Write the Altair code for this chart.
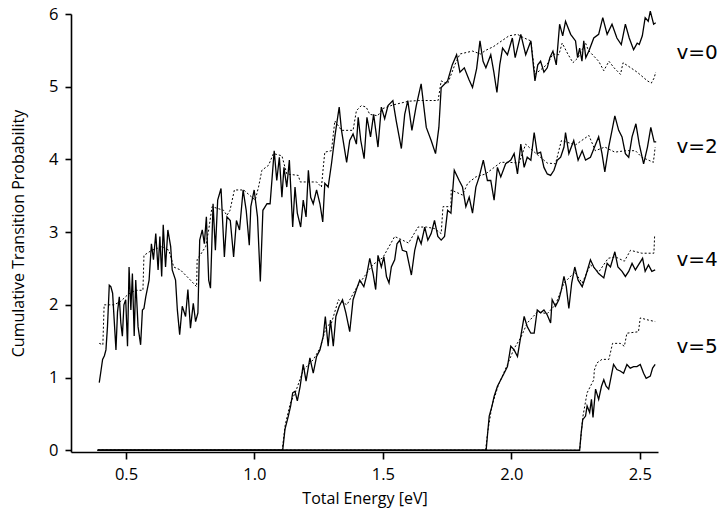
import altair as alt
import pandas as pd

# ---- data (Total Energy [eV], Cumulative Transition Probability) ----
v0_solid_x = [0.396, 0.403, 0.409, 0.416, 0.422, 0.428, 0.435, 0.441, 0.448, 0.454, 0.461, 0.467, 0.474, 0.480,
              0.486, 0.492, 0.499, 0.506, 0.512, 0.519, 0.525, 0.532, 0.538, 0.547, 0.557, 0.564, 0.570, 0.577,
              0.590, 0.599, 0.607, 0.616, 0.625, 0.632, 0.639, 0.645, 0.654, 0.663, 0.674, 0.680, 0.693, 0.700,
              0.709, 0.719, 0.732, 0.741, 0.751, 0.762, 0.771, 0.780, 0.787, 0.797, 0.805, 0.813, 0.822, 0.829,
              0.839, 0.848, 0.857, 0.870, 0.883, 0.893, 0.906, 0.919, 0.930, 0.942, 0.956, 0.968, 0.980, 0.986,
              0.999, 1.012, 1.023, 1.033, 1.049, 1.061, 1.077, 1.087, 1.097, 1.107, 1.115, 1.126, 1.136, 1.149,
              1.158, 1.167, 1.180, 1.190, 1.201, 1.210, 1.219, 1.229, 1.242, 1.255, 1.266, 1.274, 1.287, 1.300,
              1.313, 1.322, 1.330, 1.339, 1.359, 1.371, 1.384, 1.397, 1.404, 1.414, 1.427, 1.438, 1.452, 1.464,
              1.481, 1.494, 1.507, 1.520, 1.539, 1.552, 1.572, 1.585, 1.597, 1.613, 1.630, 1.649, 1.669, 1.688,
              1.705, 1.718, 1.727, 1.752, 1.770, 1.787, 1.800, 1.817, 1.835, 1.849, 1.865, 1.878, 1.890, 1.901,
              1.920, 1.932, 1.944, 1.955, 1.966, 1.985, 2.004, 2.015, 2.024, 2.037, 2.056, 2.076, 2.092, 2.103,
              2.114, 2.127, 2.140, 2.150, 2.162, 2.175, 2.188, 2.200, 2.211, 2.222, 2.231, 2.250, 2.258, 2.266,
              2.275, 2.282, 2.290, 2.302, 2.321, 2.340, 2.356, 2.373, 2.392, 2.411, 2.428, 2.444, 2.459, 2.476,
              2.490, 2.498, 2.510, 2.521, 2.533, 2.541, 2.554, 2.562]
v0_solid_y = [0.93, 1.10, 1.25, 1.30, 1.38, 1.70, 2.27, 2.25, 2.16, 1.80, 1.38, 1.90, 2.11, 1.75,
              1.57, 2.00, 2.07, 1.43, 2.52, 1.93, 2.43, 1.57, 2.34, 1.70, 1.45, 1.93, 1.95, 2.11,
              2.34, 2.84, 2.62, 2.98, 2.48, 2.94, 2.39, 3.10, 2.52, 3.03, 2.80, 2.48, 2.34, 1.93,
              1.59, 1.98, 1.84, 2.21, 1.68, 2.02, 1.77, 1.89, 2.89, 3.03, 2.84, 3.21, 2.34, 2.23,
              3.39, 2.75, 3.44, 3.60, 2.66, 3.21, 3.16, 2.66, 3.16, 3.03, 3.58, 3.30, 2.82, 3.35,
              3.58, 3.21, 2.32, 3.30, 3.39, 3.39, 4.12, 3.71, 4.03, 3.48, 3.89, 3.62, 3.99, 3.07,
              3.62, 3.26, 3.07, 3.44, 3.21, 3.85, 3.48, 3.39, 3.58, 3.39, 3.14, 3.67, 3.62, 3.94,
              4.31, 4.53, 4.72, 4.40, 3.96, 4.26, 4.35, 4.21, 4.58, 4.26, 4.01, 4.58, 4.31, 4.62,
              4.17, 4.72, 4.56, 4.74, 4.81, 4.53, 4.15, 4.62, 4.81, 4.40, 4.74, 5.04, 4.44, 4.26,
              4.08, 4.44, 4.99, 5.08, 5.30, 5.44, 5.20, 5.26, 5.10, 4.99, 5.25, 5.63, 5.35, 5.26,
              5.44, 5.20, 4.92, 5.30, 5.53, 5.44, 5.67, 5.40, 5.53, 5.72, 5.44, 5.63, 5.08, 5.30,
              5.35, 5.20, 5.26, 5.40, 5.49, 5.30, 5.86, 5.70, 5.90, 5.80, 5.72, 5.63, 5.40, 5.53,
              5.35, 5.63, 5.40, 5.49, 5.67, 5.72, 5.95, 5.72, 5.86, 5.67, 5.58, 5.86, 5.67, 5.51,
              5.60, 5.58, 5.70, 5.95, 5.90, 6.04, 5.86, 5.88]

v0_dot_x = [0.396, 0.410, 0.415, 0.454, 0.480, 0.510, 0.538, 0.566, 0.570, 0.600, 0.640, 0.667, 0.686, 0.712,
            0.751, 0.775, 0.777, 0.810, 0.822, 0.835, 0.880, 0.893, 0.905, 0.922, 0.958, 1.003, 1.016, 1.029,
            1.055, 1.074, 1.107, 1.126, 1.171, 1.178, 1.242, 1.261, 1.268, 1.274, 1.300, 1.313, 1.339, 1.384,
            1.397, 1.416, 1.435, 1.449, 1.480, 1.500, 1.540, 1.600, 1.640, 1.715, 1.727, 1.752, 1.780, 1.800,
            1.849, 1.880, 1.900, 1.930, 1.991, 2.024, 2.050, 2.076, 2.092, 2.120, 2.140, 2.162, 2.185, 2.198,
            2.220, 2.240, 2.260, 2.289, 2.300, 2.340, 2.360, 2.380, 2.400, 2.425, 2.435, 2.465, 2.490, 2.530,
            2.545, 2.556, 2.562]
v0_dot_y = [1.47, 1.45, 2.00, 2.00, 2.05, 2.15, 2.20, 2.20, 2.68, 2.75, 2.80, 2.75, 2.52, 2.48,
            2.34, 2.25, 2.62, 2.80, 3.03, 3.35, 3.30, 3.23, 3.30, 3.58, 3.58, 3.44, 3.62, 3.85,
            3.92, 4.08, 4.05, 3.80, 3.78, 3.69, 3.69, 3.62, 3.89, 4.10, 4.12, 4.53, 4.40, 4.40,
            4.67, 4.74, 4.72, 4.62, 4.60, 4.70, 4.75, 4.80, 4.81, 4.81, 5.08, 5.04, 5.30, 5.45,
            5.49, 5.45, 5.50, 5.55, 5.70, 5.72, 5.67, 5.63, 5.17, 5.25, 5.31, 5.45, 5.44, 5.60,
            5.45, 5.33, 5.40, 5.60, 5.50, 5.35, 5.22, 5.35, 5.26, 5.17, 5.33, 5.26, 5.20, 5.08,
            5.05, 5.12, 5.20]

v2_solid_x = [0.390, 1.110, 1.119, 1.132, 1.141, 1.149, 1.158, 1.167, 1.178, 1.190, 1.201, 1.216, 1.229, 1.242,
              1.255, 1.268, 1.276, 1.287, 1.296, 1.307, 1.317, 1.330, 1.343, 1.356, 1.371, 1.384, 1.397, 1.410,
              1.426, 1.436, 1.449, 1.462, 1.472, 1.481, 1.494, 1.504, 1.514, 1.524, 1.533, 1.546, 1.555, 1.566,
              1.576, 1.592, 1.611, 1.624, 1.637, 1.649, 1.663, 1.675, 1.688, 1.701, 1.714, 1.727, 1.740, 1.752,
              1.765, 1.778, 1.797, 1.810, 1.823, 1.836, 1.849, 1.862, 1.875, 1.891, 1.907, 1.920, 1.933, 1.946,
              1.959, 1.978, 1.998, 2.011, 2.024, 2.037, 2.050, 2.062, 2.076, 2.089, 2.101, 2.114, 2.127, 2.140,
              2.153, 2.166, 2.179, 2.192, 2.205, 2.211, 2.224, 2.243, 2.260, 2.276, 2.289, 2.308, 2.324, 2.340,
              2.353, 2.364, 2.379, 2.392, 2.403, 2.418, 2.431, 2.444, 2.457, 2.470, 2.485, 2.498, 2.515, 2.530,
              2.543, 2.556, 2.564]
v2_solid_y = [0.00, 0.00, 0.29, 0.47, 0.61, 0.79, 0.81, 0.68, 0.88, 1.18, 0.95, 1.27, 1.06, 1.29,
              1.38, 1.57, 1.84, 1.43, 1.79, 1.43, 1.84, 1.98, 2.07, 1.89, 1.63, 2.07, 2.21, 2.34,
              2.25, 2.39, 2.64, 2.43, 2.21, 2.68, 2.52, 2.66, 2.39, 2.30, 2.52, 2.62, 2.84, 2.89,
              2.75, 2.73, 2.41, 2.75, 2.94, 2.84, 3.07, 2.89, 2.98, 3.16, 2.94, 2.89, 2.94, 3.30,
              3.26, 3.85, 3.71, 3.62, 3.35, 3.48, 3.26, 3.62, 3.76, 3.99, 3.71, 3.71, 3.44, 3.89,
              3.76, 3.94, 3.99, 4.08, 3.80, 4.21, 3.89, 4.03, 3.99, 4.37, 4.08, 4.10, 3.89, 3.80,
              3.78, 3.85, 3.99, 4.03, 4.17, 4.37, 4.08, 4.26, 3.99, 4.12, 3.99, 4.03, 4.17, 4.31,
              4.08, 3.83, 4.17, 4.40, 4.60, 4.40, 4.31, 4.08, 4.03, 4.31, 4.49, 4.21, 3.94, 4.17,
              4.44, 4.24, 4.24]

v2_dot_x = [0.390, 1.108, 1.120, 1.140, 1.160, 1.190, 1.230, 1.255, 1.280, 1.300, 1.327, 1.360, 1.400, 1.430,
            1.460, 1.500, 1.546, 1.600, 1.637, 1.669, 1.700, 1.727, 1.734, 1.765, 1.766, 1.810, 1.830, 1.862,
            1.900, 1.959, 1.991, 2.030, 2.056, 2.090, 2.140, 2.172, 2.195, 2.250, 2.302, 2.327, 2.364, 2.403,
            2.444, 2.483, 2.508, 2.534, 2.553, 2.560]
v2_dot_y = [0.00, 0.00, 0.35, 0.65, 0.80, 1.10, 1.25, 1.40, 1.70, 1.75, 2.07, 2.00, 2.25, 2.40,
            2.55, 2.65, 2.94, 2.85, 3.07, 3.07, 3.05, 2.98, 3.35, 3.35, 3.58, 3.51, 3.67, 3.76,
            3.80, 3.96, 3.96, 3.95, 4.21, 4.10, 3.95, 3.94, 4.26, 4.20, 4.33, 4.12, 4.17, 4.10,
            4.12, 4.12, 4.03, 3.99, 3.96, 4.17]

v4_solid_x = [0.390, 1.902, 1.908, 1.914, 1.925, 1.933, 1.946, 1.959, 1.972, 1.985, 1.998, 2.011, 2.024, 2.037,
              2.050, 2.062, 2.076, 2.089, 2.101, 2.114, 2.127, 2.140, 2.153, 2.159, 2.172, 2.185, 2.195, 2.205,
              2.214, 2.224, 2.235, 2.247, 2.260, 2.276, 2.289, 2.308, 2.321, 2.340, 2.360, 2.373, 2.386, 2.403,
              2.415, 2.431, 2.444, 2.457, 2.470, 2.483, 2.495, 2.511, 2.521, 2.534, 2.547, 2.560]
v4_solid_y = [0.00, 0.00, 0.24, 0.47, 0.61, 0.74, 0.88, 0.97, 1.06, 1.15, 1.43, 1.38, 1.29, 1.57,
              1.84, 1.70, 1.61, 1.61, 1.93, 1.89, 1.93, 1.86, 1.75, 2.07, 1.98, 2.07, 2.21, 2.39,
              2.25, 1.95, 2.30, 2.52, 2.34, 2.25, 2.39, 2.62, 2.52, 2.43, 2.37, 2.57, 2.52, 2.73,
              2.52, 2.46, 2.39, 2.46, 2.57, 2.48, 2.55, 2.64, 2.46, 2.55, 2.46, 2.48]

v4_dot_x = [0.390, 1.900, 1.908, 1.925, 1.950, 1.985, 2.011, 2.037, 2.062, 2.101, 2.140, 2.172, 2.205, 2.247,
            2.276, 2.308, 2.340, 2.377, 2.405, 2.440, 2.464, 2.508, 2.540, 2.555, 2.558]
v4_dot_y = [0.00, 0.00, 0.25, 0.62, 0.90, 1.18, 1.40, 1.55, 1.75, 1.90, 1.88, 2.00, 2.30, 2.45,
            2.30, 2.55, 2.45, 2.64, 2.66, 2.60, 2.75, 2.71, 2.71, 2.71, 2.96]

v5_solid_x = [0.390, 2.266, 2.272, 2.278, 2.289, 2.295, 2.305, 2.312, 2.318, 2.328, 2.340, 2.351, 2.360, 2.369,
              2.379, 2.389, 2.398, 2.411, 2.424, 2.437, 2.450, 2.463, 2.476, 2.489, 2.502, 2.515, 2.525, 2.541,
              2.550, 2.560]
v5_solid_y = [0.00, 0.00, 0.24, 0.42, 0.47, 0.61, 0.52, 0.70, 0.45, 0.84, 0.70, 0.88, 0.97, 0.88,
              0.84, 1.02, 1.18, 1.11, 1.09, 1.06, 1.18, 1.13, 1.15, 1.15, 1.18, 1.06, 0.99, 1.02,
              1.13, 1.18]

v5_dot_x = [0.390, 2.266, 2.278, 2.295, 2.321, 2.323, 2.333, 2.353, 2.380, 2.394, 2.424, 2.440, 2.450, 2.495,
            2.502, 2.534, 2.560]
v5_dot_y = [0.00, 0.00, 0.45, 0.79, 0.97, 1.10, 1.20, 1.25, 1.25, 1.47, 1.47, 1.43, 1.61, 1.63,
            1.82, 1.79, 1.77]

label_text = ["v=0", "v=2", "v=4", "v=5"]
label_x = [2.643, 2.643, 2.643, 2.643]
label_y = [5.47, 4.17, 2.62, 1.42]

x_ticks = [0.5, 1.0, 1.5, 2.0, 2.5]
y_ticks = [0, 1, 2, 3, 4, 5, 6]

# ---- long tables ----
def build(pairs, kind):
    rows = []
    for name, xs, ys in pairs:
        for i, (a, b) in enumerate(zip(xs, ys)):
            rows.append({"series": name, "kind": kind, "i": i, "E": a, "P": b})
    return rows

solid = pd.DataFrame(build([("v0", v0_solid_x, v0_solid_y), ("v2", v2_solid_x, v2_solid_y),
                            ("v4", v4_solid_x, v4_solid_y), ("v5", v5_solid_x, v5_solid_y)], "solid"))
dotted = pd.DataFrame(build([("v0", v0_dot_x, v0_dot_y), ("v2", v2_dot_x, v2_dot_y),
                             ("v4", v4_dot_x, v4_dot_y), ("v5", v5_dot_x, v5_dot_y)], "dotted"))
labels = pd.DataFrame({"text": label_text, "E": label_x, "P": label_y})

FONT = "Open Sans"

xs = alt.X("E:Q", scale=alt.Scale(domain=[0.286, 2.571], nice=False, zero=False),
           axis=alt.Axis(title="Total Energy [eV]", values=x_ticks, format=".1f", grid=False,
                         tickSize=7, tickWidth=1.6, domainWidth=1.6, domainColor="black", tickColor="black",
                         labelFontSize=16.5, titleFontSize=16, labelFont=FONT, titleFont=FONT,
                         titleFontWeight="normal", labelColor="black", titleColor="black",
                         labelPadding=7, titlePadding=8))
ys = alt.Y("P:Q", scale=alt.Scale(domain=[-0.024, 6.0], nice=False, zero=False),
           axis=alt.Axis(title="Cumulative Transition Probability", values=y_ticks, format="d", grid=False,
                         tickSize=6, tickWidth=1.6, domainWidth=1.6, domainColor="black", tickColor="black",
                         labelFontSize=16.5, titleFontSize=16, labelFont=FONT, titleFont=FONT,
                         titleFontWeight="normal", labelColor="black", titleColor="black",
                         labelPadding=7, titlePadding=22))

solid_layer = alt.Chart(solid).mark_line(color="black", strokeWidth=1.3).encode(
    x=xs, y=ys, detail="series:N", order="i:Q")
dotted_layer = alt.Chart(dotted).mark_line(color="black", strokeWidth=1.0, strokeDash=[2, 2]).encode(
    x="E:Q", y="P:Q", detail="series:N", order="i:Q")
label_layer = alt.Chart(labels).mark_text(align="left", baseline="middle", fontSize=20, font="DejaVu Sans",
                                          color="black").encode(x="E:Q", y="P:Q", text="text:N")

chart = alt.layer(dotted_layer, solid_layer, label_layer).properties(
    width=587, height=438,
    padding={"left": 71, "top": 14, "right": 64, "bottom": 70},
    autosize=alt.AutoSizeParams(type="none"),
    background="white",
).configure_view(stroke=None)

chart.save("out.html", embed_options={"renderer": "svg", "actions": False})
